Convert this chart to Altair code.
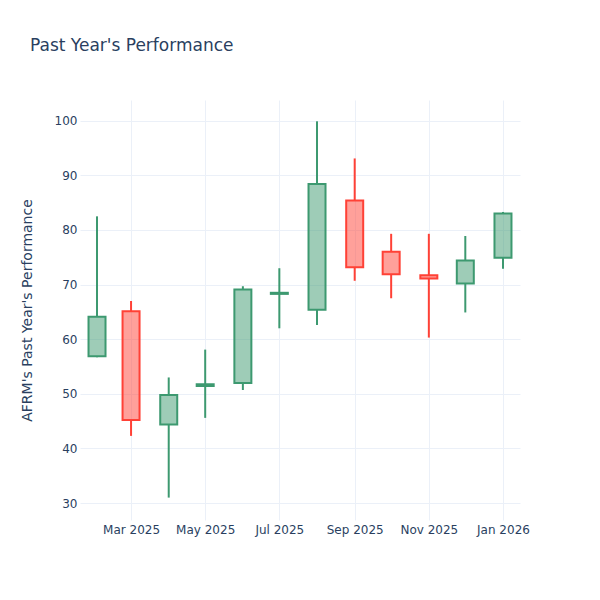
import altair as alt
import pandas as pd

dates = ["2025-02-01", "2025-03-01", "2025-04-01", "2025-05-01", "2025-06-01", "2025-07-01",
         "2025-08-01", "2025-09-01", "2025-10-01", "2025-11-01", "2025-12-01", "2026-01-01"]
opens = [56.9, 65.1, 44.4, 51.45, 52.0, 68.3, 65.4, 85.4, 76.0, 71.7, 70.2, 74.9]
highs = [82.5, 67.0, 53.0, 58.1, 69.7, 73.0, 99.9, 93.1, 79.3, 79.3, 78.9, 83.3]
lows = [56.7, 42.3, 31.0, 45.6, 50.7, 62.0, 62.6, 70.7, 67.5, 60.3, 64.9, 72.9]
closes = [64.1, 45.2, 49.8, 51.75, 69.1, 68.5, 88.4, 73.2, 71.9, 71.1, 74.4, 83.0]

df = pd.DataFrame({"date": dates, "open": opens, "high": highs, "low": lows, "close": closes})

FONT = "DejaVu Sans"
TXT = "#2a3f5f"
GRID = "#EBF0F8"
UP = "#3D9970"
DOWN = "#FF4136"

tick_vals = [alt.DateTime(year=y, month=m, date=1, utc=True)
             for (y, m) in [(2025, 3), (2025, 5), (2025, 7), (2025, 9), (2025, 11), (2026, 1)]]

x = alt.X("date:T", title=None,
          scale=alt.Scale(type="utc", padding=0,
                          domain=[alt.DateTime(year=2025, month=1, date=18, utc=True),
                                  alt.DateTime(year=2026, month=1, date=15, utc=True)]),
          axis=alt.Axis(values=tick_vals, format="%b %Y", labelFont=FONT, labelFontSize=12,
                        labelColor=TXT, grid=True, gridColor=GRID, domain=False, ticks=False,
                        labelPadding=4, labelFlush=False))

yscale = alt.Scale(domain=[26.9, 103.8], nice=False, zero=False, padding=0)
yaxis = alt.Axis(values=[30, 40, 50, 60, 70, 80, 90, 100], labelFont=FONT, labelFontSize=12,
                 labelColor=TXT, grid=True, gridColor=GRID, domain=False, ticks=False,
                 labelPadding=3, title="AFRM's Past Year's Performance", titleFont=FONT,
                 titleFontSize=14, titleColor=TXT, titleFontWeight="normal",
                 titleX=-53, titleY=210, titleBaseline="middle", titleAngle=270)

color = alt.Color("dir:N", scale=alt.Scale(domain=["up", "down"], range=[UP, DOWN]), legend=None)

base = alt.Chart(df).transform_calculate(
    lo="min(datum.open, datum.close)",
    hi="max(datum.open, datum.close)",
    dir="datum.close >= datum.open ? 'up' : 'down'",
)

wick_low = base.mark_rule(strokeWidth=2).encode(
    x=x, y=alt.Y("low:Q", scale=yscale, axis=yaxis), y2="lo:Q", color=color)
wick_high = base.mark_rule(strokeWidth=2).encode(
    x=x, y=alt.Y("hi:Q", scale=yscale), y2="high:Q", color=color)
body = base.mark_bar(width=17, strokeWidth=2, fillOpacity=0.5).encode(
    x=x, y=alt.Y("lo:Q", scale=yscale), y2="hi:Q", color=color, stroke=color)

chart = alt.layer(wick_low, wick_high, body).properties(
    width=440, height=420,
    padding={"left": 72, "top": 92, "right": 72, "bottom": 72},
    autosize=alt.AutoSizeParams(type="none"),
    background="white",
    title=alt.TitleParams("Past Year's Performance", anchor="start", frame="group", dx=-50,
                          offset=32, baseline="alphabetic", font=FONT, fontSize=17,
                          fontWeight="normal", color=TXT),
).configure_view(strokeWidth=0, stroke="transparent")

chart.save("out.html", embed_options={"renderer": "svg", "actions": False})
